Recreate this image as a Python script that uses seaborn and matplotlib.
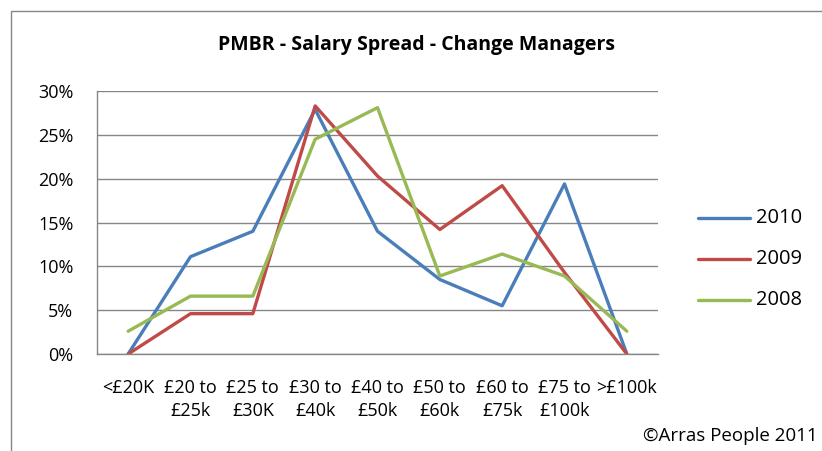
import matplotlib.pyplot as plt
import matplotlib.patches as patches
import pandas as pd
import seaborn as sns

categories = ['<£20K', '£20 to\n£25k', '£25 to\n£30K', '£30 to\n£40k', '£40 to\n£50k',
              '£50 to\n£60k', '£60 to\n£75k', '£75 to\n£100k', '>£100k']
v2010 = [0.0, 11.1, 14.0, 27.9, 14.0, 8.5, 5.5, 19.4, 0.0]
v2009 = [0.0, 4.6, 4.6, 28.3, 20.3, 14.2, 19.2, 9.3, 0.0]
v2008 = [2.6, 6.6, 6.6, 24.5, 28.1, 8.9, 11.4, 8.9, 2.6]
years = ['2010', '2009', '2008']
colors = ['#4A7EBB', '#BE4B48', '#98B954']

rows = []
for year, vals in zip(years, [v2010, v2009, v2008]):
    for i, v in enumerate(vals):
        rows.append({'pos': i, 'value': v, 'year': year})
df = pd.DataFrame(rows)

sns.set_style('white')
plt.rcParams['font.family'] = ['Open Sans', 'DejaVu Sans']
plt.rcParams['text.color'] = 'black'
plt.rcParams['xtick.color'] = 'black'
plt.rcParams['ytick.color'] = 'black'

fig = plt.figure(figsize=(8.22, 4.51), dpi=100)
ax = fig.add_axes([97 / 822, 1 - 354 / 451, (658 - 97) / 822, (354 - 91) / 451])

sns.lineplot(data=df, x='pos', y='value', hue='year', hue_order=years,
             palette=colors, linewidth=2.4, ax=ax, legend=False)

grey = '#868686'
ax.set_xlim(-0.5, 8.5)
ax.set_ylim(0, 30)
ax.set_yticks(range(0, 31, 5))
ax.set_yticklabels([f'{t}%' for t in range(0, 31, 5)], fontsize=13)
ax.yaxis.grid(True, color=grey, linewidth=1)
ax.set_axisbelow(True)
ax.set_xticks(range(9))
ax.set_xticklabels(categories, fontsize=13, linespacing=1.35)
ax.set_xticks([i - 0.5 for i in range(10)], minor=True)
ax.tick_params(axis='x', which='major', length=0, pad=18)
ax.tick_params(axis='x', which='minor', length=5, color=grey, width=1)
ax.tick_params(axis='y', length=5, color=grey, width=1, pad=12)
ax.set_xlabel('')
ax.set_ylabel('')
for s in ['top', 'right']:
    ax.spines[s].set_visible(False)
for s in ['left', 'bottom']:
    ax.spines[s].set_color(grey)
    ax.spines[s].set_linewidth(1)

# legend drawn manually in figure coords
for k, (year, c) in enumerate(zip(years, colors)):
    y = 1 - (218 + 41 * k) / 451
    fig.add_artist(plt.Line2D([698 / 822, 750 / 822], [y, y], color=c, linewidth=2.4))
    fig.text(756 / 822, y, year, fontsize=14.5, va='center', ha='left')

fig.text(416 / 822, 1 - 45 / 451, 'PMBR - Salary Spread - Change Managers',
         fontsize=14, fontweight='bold', ha='center', va='center')
fig.text(818 / 822, 1 - 436 / 451, '©Arras People 2011', fontsize=13.5,
         ha='right', va='center')

fig.add_artist(patches.Rectangle((11 / 822, -0.1), 1.2, 1 - 11 / 451 + 0.1,
                                 transform=fig.transFigure, fill=False,
                                 edgecolor=grey, linewidth=1))

fig.savefig('out.png', dpi=100)
